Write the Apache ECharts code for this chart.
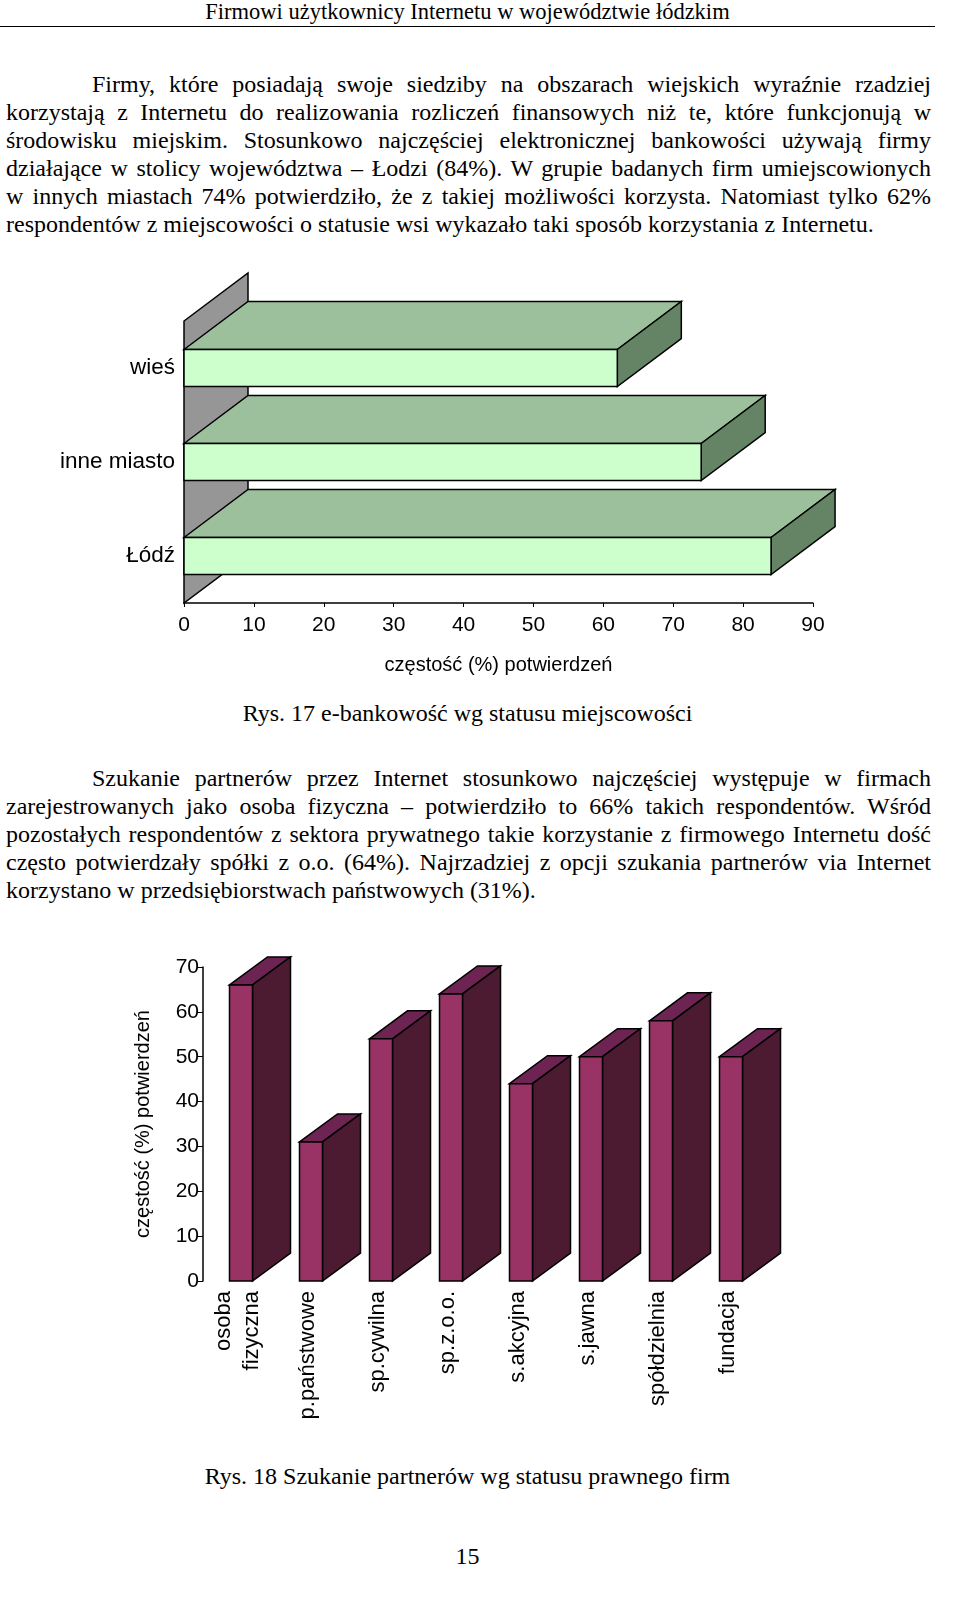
<!DOCTYPE html>
<html><head><meta charset="utf-8">
<script src="https://cdn.jsdelivr.net/npm/echarts@6/dist/echarts.min.js"></script>
<style>
body{margin:0;width:960px;height:1611px;background:#fff;position:relative;font-family:"Liberation Serif","Times New Roman",serif;color:#000;}
.hdr{position:absolute;left:0;width:935px;top:0;text-align:center;font-size:22.5px;line-height:24px;border-bottom:1.5px solid #000;height:26px;}
.p{position:absolute;left:6px;width:925px;font-size:24px;}
.p div{height:28px;line-height:28px;text-align:justify;text-align-last:justify;white-space:nowrap;}
.p div.last{text-align-last:left;}
.p div.ind{padding-left:86px;}
.cap{position:absolute;left:0;width:935px;text-align:center;font-size:24px;}
#c1{position:absolute;left:0;top:250px;width:960px;height:440px;}
#c2{position:absolute;left:0;top:930px;width:960px;height:520px;}
</style></head><body>
<div class="hdr">Firmowi użytkownicy Internetu w województwie łódzkim</div>
<div class="p" style="top:70px">
<div class="ind">Firmy, które posiadają swoje siedziby na obszarach wiejskich wyraźnie rzadziej</div>
<div>korzystają z Internetu do realizowania rozliczeń finansowych niż te, które funkcjonują w</div>
<div>środowisku miejskim. Stosunkowo najczęściej elektronicznej bankowości używają firmy</div>
<div>działające w stolicy województwa – Łodzi (84%). W grupie badanych firm umiejscowionych</div>
<div>w innych miastach 74% potwierdziło, że z takiej możliwości korzysta. Natomiast tylko 62%</div>
<div class="last">respondentów z miejscowości o statusie wsi wykazało taki sposób korzystania z Internetu.</div>
</div>
<div class="cap" style="top:700px">Rys. 17 e-bankowość wg statusu miejscowości</div>
<div class="p" style="top:764px">
<div class="ind">Szukanie partnerów przez Internet stosunkowo najczęściej występuje w firmach</div>
<div>zarejestrowanych jako osoba fizyczna – potwierdziło to 66% takich respondentów. Wśród</div>
<div>pozostałych respondentów z sektora prywatnego takie korzystanie z firmowego Internetu dość</div>
<div>często potwierdzały spółki z o.o. (64%). Najrzadziej z opcji szukania partnerów via Internet</div>
<div class="last">korzystano w przedsiębiorstwach państwowych (31%).</div>
</div>
<div class="cap" style="top:1463px">Rys. 18 Szukanie partnerów wg statusu prawnego firm</div>
<div class="cap" style="top:1543px">15</div>
<div id="c1"></div>
<div id="c2"></div>
<script>
const places = ['wieś','inne miasto','Łódź'];
const bankValues = [62, 74, 84];
const xTicks1 = [0,10,20,30,40,50,60,70,80,90];
const forms = ['osoba\nfizyczna','p.państwowe','sp.cywilna','sp.z.o.o.','s.akcyjna','s.jawna','spółdzielnia','fundacja'];
const partnerValues = [66, 31, 54, 64, 44, 50, 58, 50];

const sans = 'Liberation Sans, Arial, sans-serif';
const c1 = echarts.init(document.getElementById('c1'));
const dx1 = 64, dy1 = -48, h1 = 37;
c1.setOption({
  animation:false,
  grid:{left:184, top:71, width:629, height:282},
  xAxis:{type:'value', min:0, max:90, interval:10, splitLine:{show:false},
    axisLine:{show:true, lineStyle:{color:'#000', width:1.5}}, axisTick:{show:true, length:4, lineStyle:{color:'#000'}},
    axisLabel:{color:'#000', fontSize:21, fontFamily:sans, margin:12},
    name:'częstość (%) potwierdzeń', nameLocation:'middle', nameGap:52, nameTextStyle:{color:'#000', fontSize:20, fontFamily:sans}},
  yAxis:{type:'category', data:places, inverse:true, axisLine:{show:false}, axisTick:{show:false},
    axisLabel:{color:'#000', fontSize:22.5, fontFamily:sans, margin:9}},
  series:[
    {type:'custom', z:1, data:[0], renderItem:function(params, api){
      const a = api.coord([0,0]), b = api.coord([0,places.length-1]);
      const band = api.size([0,1])[1];
      const top = a[1]-band/2, bot = b[1]+band/2, x = a[0];
      return {type:'polygon', shape:{points:[[x,top],[x+dx1,top+dy1],[x+dx1,bot+dy1],[x,bot]]},
        style:{fill:'#969696', stroke:'#000', lineWidth:1.5}};
    }},
    {type:'custom', z:2, data:bankValues.map((v,i)=>[v,i]), encode:{x:0,y:1}, renderItem:function(params, api){
      const v = api.value(0), i = api.value(1);
      const p0 = api.coord([0,i]), p1 = api.coord([v,i]);
      const y0 = p0[1]-h1/2, y1 = p0[1]+h1/2, x0 = p0[0], x1 = p1[0];
      const st = (f)=>({fill:f, stroke:'#000', lineWidth:1.5});
      return {type:'group', children:[
        {type:'polygon', shape:{points:[[x0,y0],[x0+dx1,y0+dy1],[x1+dx1,y0+dy1],[x1,y0]]}, style:st('#9cc09c')},
        {type:'polygon', shape:{points:[[x1,y0],[x1+dx1,y0+dy1],[x1+dx1,y1+dy1],[x1,y1]]}, style:st('#658465')},
        {type:'rect', shape:{x:x0, y:y0, width:x1-x0, height:h1}, style:st('#ccffcc')}
      ]};
    }}
  ]
});

const c2 = echarts.init(document.getElementById('c2'));
const dx2 = 38, dy2 = -28, w2 = 23;
c2.setOption({
  animation:false,
  grid:{left:203, top:37, width:560, height:314},
  xAxis:{type:'category', data:forms, axisLine:{show:false}, axisTick:{show:false},
    axisLabel:{rotate:90, color:'#000', fontSize:22, fontFamily:sans, margin:10, interval:0, lineHeight:28}},
  yAxis:{type:'value', min:0, max:70, interval:10, splitLine:{show:false},
    axisLine:{show:true, lineStyle:{color:'#000', width:1.5}}, axisTick:{show:true, length:6, lineStyle:{color:'#000'}},
    axisLabel:{color:'#000', fontSize:21, fontFamily:sans, margin:4},
    name:'częstość (%) potwierdzeń', nameLocation:'middle', nameGap:50, nameRotate:90, nameTextStyle:{color:'#000', fontSize:20, fontFamily:sans}},
  series:[{type:'custom', data:partnerValues.map((v,i)=>[i,v]), encode:{x:0,y:1}, renderItem:function(params, api){
      const i = api.value(0), v = api.value(1);
      const p0 = api.coord([i,0]), p1 = api.coord([i,v]);
      const x0 = p0[0]-w2/2+3, x1 = x0+w2, yb = p0[1], yt = p1[1];
      const st = (f)=>({fill:f, stroke:'#000', lineWidth:1.5});
      return {type:'group', children:[
        {type:'polygon', shape:{points:[[x0,yt],[x0+dx2,yt+dy2],[x1+dx2,yt+dy2],[x1,yt]]}, style:st('#6e2452')},
        {type:'polygon', shape:{points:[[x1,yt],[x1+dx2,yt+dy2],[x1+dx2,yb+dy2],[x1,yb]]}, style:st('#4c1a31')},
        {type:'rect', shape:{x:x0, y:yt, width:w2, height:yb-yt}, style:st('#993366')}
      ]};
  }}]
});
</script>
</body></html>
